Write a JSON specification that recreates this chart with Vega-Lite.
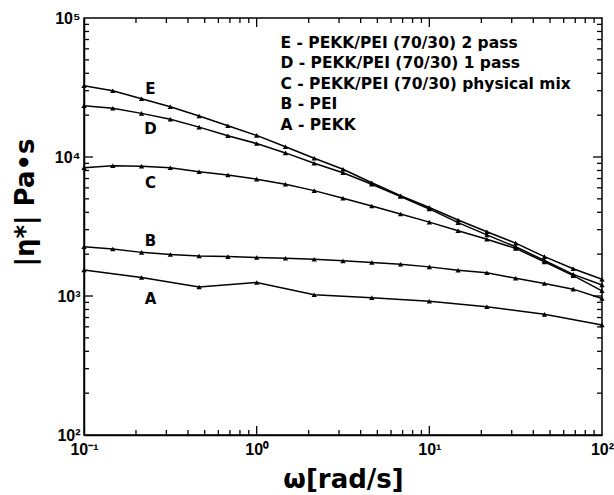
{
  "$schema": "https://vega.github.io/schema/vega-lite/v6.json",
  "width": 518,
  "height": 417,
  "autosize": "none",
  "padding": {"left": 84, "top": 18, "right": 12, "bottom": 60},
  "background": "white",
  "config": {
    "view": {"stroke": "black", "strokeWidth": 1.5},
    "font": "DejaVu Sans"
  },
  "datasets": {
    "curves": [
      {"series": "E", "w": 0.1, "eta": 32600}, {"series": "E", "w": 0.1468, "eta": 30000}, {"series": "E", "w": 0.2154, "eta": 26250}, {"series": "E", "w": 0.3162, "eta": 23000}, {"series": "E", "w": 0.4642, "eta": 19700}, {"series": "E", "w": 0.6813, "eta": 16800}, {"series": "E", "w": 1, "eta": 14300}, {"series": "E", "w": 1.468, "eta": 11860}, {"series": "E", "w": 2.154, "eta": 9790}, {"series": "E", "w": 3.162, "eta": 8160}, {"series": "E", "w": 4.642, "eta": 6530}, {"series": "E", "w": 6.813, "eta": 5270}, {"series": "E", "w": 10, "eta": 4330}, {"series": "E", "w": 14.68, "eta": 3520}, {"series": "E", "w": 21.54, "eta": 2900}, {"series": "E", "w": 31.62, "eta": 2400}, {"series": "E", "w": 46.42, "eta": 1920}, {"series": "E", "w": 68.13, "eta": 1570}, {"series": "E", "w": 100, "eta": 1320},
      {"series": "D", "w": 0.1, "eta": 23400}, {"series": "D", "w": 0.1468, "eta": 22400}, {"series": "D", "w": 0.2154, "eta": 20600}, {"series": "D", "w": 0.3162, "eta": 18700}, {"series": "D", "w": 0.4642, "eta": 16400}, {"series": "D", "w": 0.6813, "eta": 14200}, {"series": "D", "w": 1, "eta": 12500}, {"series": "D", "w": 1.468, "eta": 10700}, {"series": "D", "w": 2.154, "eta": 9010}, {"series": "D", "w": 3.162, "eta": 7710}, {"series": "D", "w": 4.642, "eta": 6370}, {"series": "D", "w": 6.813, "eta": 5200}, {"series": "D", "w": 10, "eta": 4230}, {"series": "D", "w": 14.68, "eta": 3370}, {"series": "D", "w": 21.54, "eta": 2750}, {"series": "D", "w": 31.62, "eta": 2260}, {"series": "D", "w": 46.42, "eta": 1800}, {"series": "D", "w": 68.13, "eta": 1430}, {"series": "D", "w": 100, "eta": 1200},
      {"series": "C", "w": 0.1, "eta": 8380}, {"series": "C", "w": 0.1468, "eta": 8650}, {"series": "C", "w": 0.2154, "eta": 8570}, {"series": "C", "w": 0.3162, "eta": 8380}, {"series": "C", "w": 0.4642, "eta": 7840}, {"series": "C", "w": 0.6813, "eta": 7420}, {"series": "C", "w": 1, "eta": 6930}, {"series": "C", "w": 1.468, "eta": 6370}, {"series": "C", "w": 2.154, "eta": 5730}, {"series": "C", "w": 3.162, "eta": 5050}, {"series": "C", "w": 4.642, "eta": 4440}, {"series": "C", "w": 6.813, "eta": 3890}, {"series": "C", "w": 10, "eta": 3400}, {"series": "C", "w": 14.68, "eta": 2950}, {"series": "C", "w": 21.54, "eta": 2560}, {"series": "C", "w": 31.62, "eta": 2200}, {"series": "C", "w": 46.42, "eta": 1760}, {"series": "C", "w": 68.13, "eta": 1400}, {"series": "C", "w": 100, "eta": 1090},
      {"series": "B", "w": 0.1, "eta": 2260}, {"series": "B", "w": 0.1468, "eta": 2180}, {"series": "B", "w": 0.2154, "eta": 2060}, {"series": "B", "w": 0.3162, "eta": 1990}, {"series": "B", "w": 0.4642, "eta": 1940}, {"series": "B", "w": 0.6813, "eta": 1920}, {"series": "B", "w": 1, "eta": 1890}, {"series": "B", "w": 1.468, "eta": 1870}, {"series": "B", "w": 2.154, "eta": 1840}, {"series": "B", "w": 3.162, "eta": 1790}, {"series": "B", "w": 4.642, "eta": 1740}, {"series": "B", "w": 6.813, "eta": 1690}, {"series": "B", "w": 10, "eta": 1620}, {"series": "B", "w": 14.68, "eta": 1530}, {"series": "B", "w": 21.54, "eta": 1470}, {"series": "B", "w": 31.62, "eta": 1340}, {"series": "B", "w": 46.42, "eta": 1230}, {"series": "B", "w": 68.13, "eta": 1120}, {"series": "B", "w": 100, "eta": 960},
      {"series": "A", "w": 0.1, "eta": 1540}, {"series": "A", "w": 0.2154, "eta": 1360}, {"series": "A", "w": 0.4642, "eta": 1160}, {"series": "A", "w": 1, "eta": 1250}, {"series": "A", "w": 2.154, "eta": 1020}, {"series": "A", "w": 4.642, "eta": 973}, {"series": "A", "w": 10, "eta": 917}, {"series": "A", "w": 21.54, "eta": 838}, {"series": "A", "w": 46.42, "eta": 738}, {"series": "A", "w": 100, "eta": 618}
    ],
    "curveLabels": [
      {"label": "E", "w": 0.2426, "eta": 30800},
      {"label": "D", "w": 0.2426, "eta": 15800},
      {"label": "C", "w": 0.2426, "eta": 6530},
      {"label": "B", "w": 0.2426, "eta": 2490},
      {"label": "A", "w": 0.2426, "eta": 951}
    ],
    "legend": [
      {"label": "E - PEKK/PEI (70/30) 2 pass", "w": 1.374, "eta": 66100},
      {"label": "D - PEKK/PEI (70/30) 1 pass", "w": 1.374, "eta": 47400},
      {"label": "C - PEKK/PEI (70/30) physical mix", "w": 1.374, "eta": 33500},
      {"label": "B - PEI", "w": 1.374, "eta": 23900},
      {"label": "A - PEKK", "w": 1.374, "eta": 17000}
    ],
    "majorX": [{"w": 1}, {"w": 10}],
    "minorX": [
      {"w": 0.2}, {"w": 0.3}, {"w": 0.4}, {"w": 0.5}, {"w": 0.6}, {"w": 0.7}, {"w": 0.8}, {"w": 0.9},
      {"w": 2}, {"w": 3}, {"w": 4}, {"w": 5}, {"w": 6}, {"w": 7}, {"w": 8}, {"w": 9},
      {"w": 20}, {"w": 30}, {"w": 40}, {"w": 50}, {"w": 60}, {"w": 70}, {"w": 80}, {"w": 90}
    ],
    "majorY": [{"eta": 1000}, {"eta": 10000}],
    "minorY": [
      {"eta": 200}, {"eta": 300}, {"eta": 400}, {"eta": 500}, {"eta": 600}, {"eta": 700}, {"eta": 800}, {"eta": 900},
      {"eta": 2000}, {"eta": 3000}, {"eta": 4000}, {"eta": 5000}, {"eta": 6000}, {"eta": 7000}, {"eta": 8000}, {"eta": 9000},
      {"eta": 20000}, {"eta": 30000}, {"eta": 40000}, {"eta": 50000}, {"eta": 60000}, {"eta": 70000}, {"eta": 80000}, {"eta": 90000}
    ]
  },
  "layer": [
    {
      "data": {"name": "curves"},
      "mark": {"type": "line", "color": "black", "strokeWidth": 1.5},
      "encoding": {
        "x": {
          "field": "w", "type": "quantitative",
          "scale": {"type": "log", "domain": [0.1, 100], "nice": false},
          "axis": {
            "orient": "bottom",
            "values": [0.1, 1, 10, 100],
            "labelExpr": "datum.value == 0.1 ? '10⁻¹' : datum.value == 1 ? '10⁰' : datum.value == 10 ? '10¹' : '10²'",
            "ticks": false,
            "domainColor": "black", "domainWidth": 1.5,
            "grid": false, "labelFlush": false, "labelOverlap": false,
            "labelFont": "Liberation Sans", "labelFontSize": 16, "labelFontWeight": "bold", "labelColor": "black", "labelPadding": 6,
            "title": "ω[rad/s]", "titleFont": "DejaVu Sans", "titleFontSize": 26, "titleFontWeight": "bold", "titleColor": "black", "titlePadding": 9
          }
        },
        "y": {
          "field": "eta", "type": "quantitative",
          "scale": {"type": "log", "domain": [100, 100000], "nice": false},
          "axis": {
            "orient": "left",
            "values": [100, 1000, 10000, 100000],
            "labelExpr": "datum.value == 100 ? '10²' : datum.value == 1000 ? '10³' : datum.value == 10000 ? '10⁴' : '10⁵'",
            "ticks": false,
            "domainColor": "black", "domainWidth": 1.5,
            "grid": false, "labelFlush": false, "labelOverlap": false,
            "labelFont": "Liberation Sans", "labelFontSize": 16, "labelFontWeight": "bold", "labelColor": "black", "labelPadding": 4,
            "title": "|η*| Pa•s", "titleFont": "DejaVu Sans", "titleFontSize": 26, "titleFontWeight": "bold", "titleColor": "black", "titlePadding": 16,
            "titleY": 184
          }
        },
        "detail": {"field": "series"}
      }
    },
    {
      "data": {"name": "curves"},
      "mark": {"type": "point", "shape": "triangle-up", "filled": true, "color": "black", "size": 28, "opacity": 1},
      "encoding": {
        "x": {"field": "w", "type": "quantitative"},
        "y": {"field": "eta", "type": "quantitative"}
      }
    },
    {
      "data": {"name": "majorX"},
      "mark": {"type": "rule", "color": "black", "strokeWidth": 1.3},
      "encoding": {"x": {"field": "w", "type": "quantitative"}, "y": {"datum": 100}, "y2": {"datum": 116}}
    },
    {
      "data": {"name": "minorX"},
      "mark": {"type": "rule", "color": "black", "strokeWidth": 1.3},
      "encoding": {"x": {"field": "w", "type": "quantitative"}, "y": {"datum": 100}, "y2": {"datum": 108.6}}
    },
    {
      "data": {"name": "majorX"},
      "mark": {"type": "rule", "color": "black", "strokeWidth": 1.3},
      "encoding": {"x": {"field": "w", "type": "quantitative"}, "y": {"datum": 100000}, "y2": {"datum": 86200}}
    },
    {
      "data": {"name": "minorX"},
      "mark": {"type": "rule", "color": "black", "strokeWidth": 1.3},
      "encoding": {"x": {"field": "w", "type": "quantitative"}, "y": {"datum": 100000}, "y2": {"datum": 92080}}
    },
    {
      "data": {"name": "majorY"},
      "mark": {"type": "rule", "color": "black", "strokeWidth": 1.3},
      "encoding": {"y": {"field": "eta", "type": "quantitative"}, "x": {"datum": 0.1}, "x2": {"datum": 0.1127}}
    },
    {
      "data": {"name": "minorY"},
      "mark": {"type": "rule", "color": "black", "strokeWidth": 1.3},
      "encoding": {"y": {"field": "eta", "type": "quantitative"}, "x": {"datum": 0.1}, "x2": {"datum": 0.1069}}
    },
    {
      "data": {"name": "majorY"},
      "mark": {"type": "rule", "color": "black", "strokeWidth": 1.3},
      "encoding": {"y": {"field": "eta", "type": "quantitative"}, "x": {"datum": 100}, "x2": {"datum": 88.7}}
    },
    {
      "data": {"name": "minorY"},
      "mark": {"type": "rule", "color": "black", "strokeWidth": 1.3},
      "encoding": {"y": {"field": "eta", "type": "quantitative"}, "x": {"datum": 100}, "x2": {"datum": 93.6}}
    },
    {
      "data": {"name": "curveLabels"},
      "mark": {"type": "text", "font": "DejaVu Sans", "fontSize": 15, "fontWeight": "bold", "color": "black", "align": "center", "baseline": "middle"},
      "encoding": {
        "x": {"field": "w", "type": "quantitative"},
        "y": {"field": "eta", "type": "quantitative"},
        "text": {"field": "label"}
      }
    },
    {
      "data": {"name": "legend"},
      "mark": {"type": "text", "font": "DejaVu Sans", "fontSize": 15.5, "fontWeight": "bold", "color": "black", "align": "left", "baseline": "middle"},
      "encoding": {
        "x": {"field": "w", "type": "quantitative"},
        "y": {"field": "eta", "type": "quantitative"},
        "text": {"field": "label"}
      }
    }
  ]
}
